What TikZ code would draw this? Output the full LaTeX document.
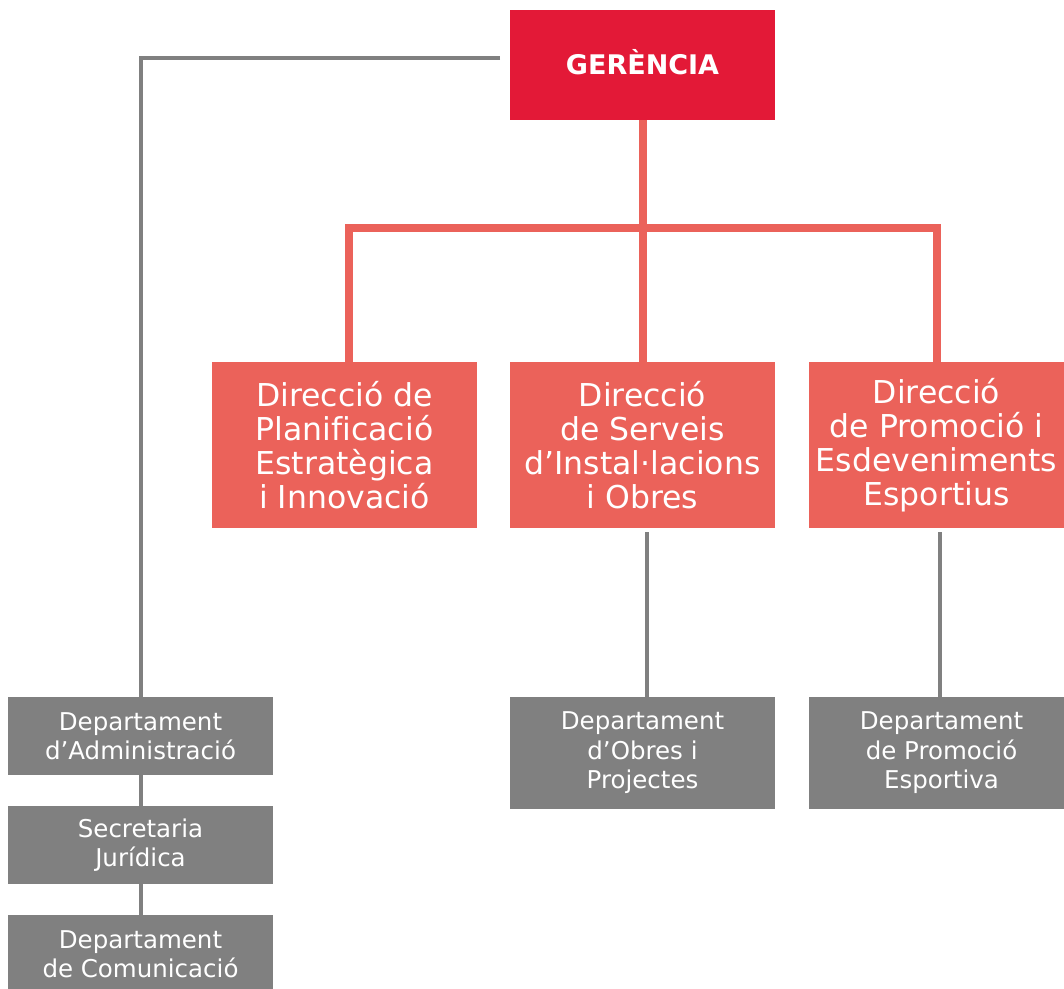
\documentclass[tikz,border=0pt]{standalone}
\usepackage{fontspec}
\setmainfont[Ligatures=NoCommon]{DejaVu Sans}
\usetikzlibrary{positioning}
\definecolor{gerred}{HTML}{E31937}
\definecolor{dirred}{HTML}{EB625A}
\definecolor{deptgray}{HTML}{808080}
\tikzset{
    gerbox/.style={fill=gerred, text=white, minimum width=265pt, minimum height=110pt, inner sep=0pt, font=\fontsize{27}{32}\selectfont\bfseries},
    dirbox/.style={fill=dirred, text=white, minimum width=265pt, minimum height=166pt, inner sep=0pt, align=center, font=\fontsize{31.5}{34}\selectfont},
    deptbox/.style={fill=deptgray, text=white, minimum width=265pt, inner sep=0pt, align=center, font=\fontsize{24.5}{29.5}\selectfont},
    redline/.style={draw=dirred, line width=8pt},
    grayline/.style={draw=deptgray, line width=4pt},
}
\begin{document}
\begin{tikzpicture}[x=1pt, y=-1pt]
        \useasboundingbox (0,0) rectangle (1064,988);
        \node[gerbox] (ger) at (642.5, 65) {\raisebox{6pt}{GERÈNCIA}};
        \node[dirbox] (dirPlan) at (344.5, 445) {Direcció de\\Planificació\\Estratègica\\i Innovació};
        \node[dirbox] (dirServ) at (642.5, 445) {Direcció\\de Serveis\\d’Instal·lacions\\i Obres};
        \node[dirbox, minimum width=255pt] (dirProm) at (936.5, 445) {Direcció\\de Promoció i\\Esdeveniments\\Esportius};
        \node[deptbox, minimum height=112pt] (deptObres) at (642.5, 753) {Departament\\d’Obres i\\Projectes};
        \node[deptbox, minimum height=112pt] (deptProm) at (941.5, 753) {Departament\\de Promoció\\Esportiva};
        \node[deptbox, minimum height=78pt] (deptAdm) at (140.5, 736) {Departament\\d’Administració};
        \node[deptbox, minimum height=78pt] (secJur) at (140.5, 845) {Secretaria\\Jurídica};
        \node[deptbox, minimum height=78pt] (deptCom) at (140.5, 954) {Departament\\de Comunicació};
        % red tree under the gerencia
        \coordinate (bus) at (642.5, 228);
        \draw[redline] (ger.south) -- (dirServ.north);
        \draw[redline] ([xshift=4.5pt]dirPlan.north) |- (bus) -| ([xshift=0.5pt]dirProm.north);
        % gray links
        \coordinate (gerLeft) at (500, 58);
        \draw[grayline] (gerLeft) -| (deptAdm.north);
        \draw[grayline] (deptAdm.south) -- (secJur.north);
        \draw[grayline] (secJur.south) -- (deptCom.north);
        \draw[grayline] ([shift={(4.5pt,-4pt)}]dirServ.south) -- ([xshift=4.5pt]deptObres.north);
        \draw[grayline] ([shift={(3.5pt,-4pt)}]dirProm.south) -- ([xshift=-1.5pt]deptProm.north);
    \end{tikzpicture}
\end{document}
